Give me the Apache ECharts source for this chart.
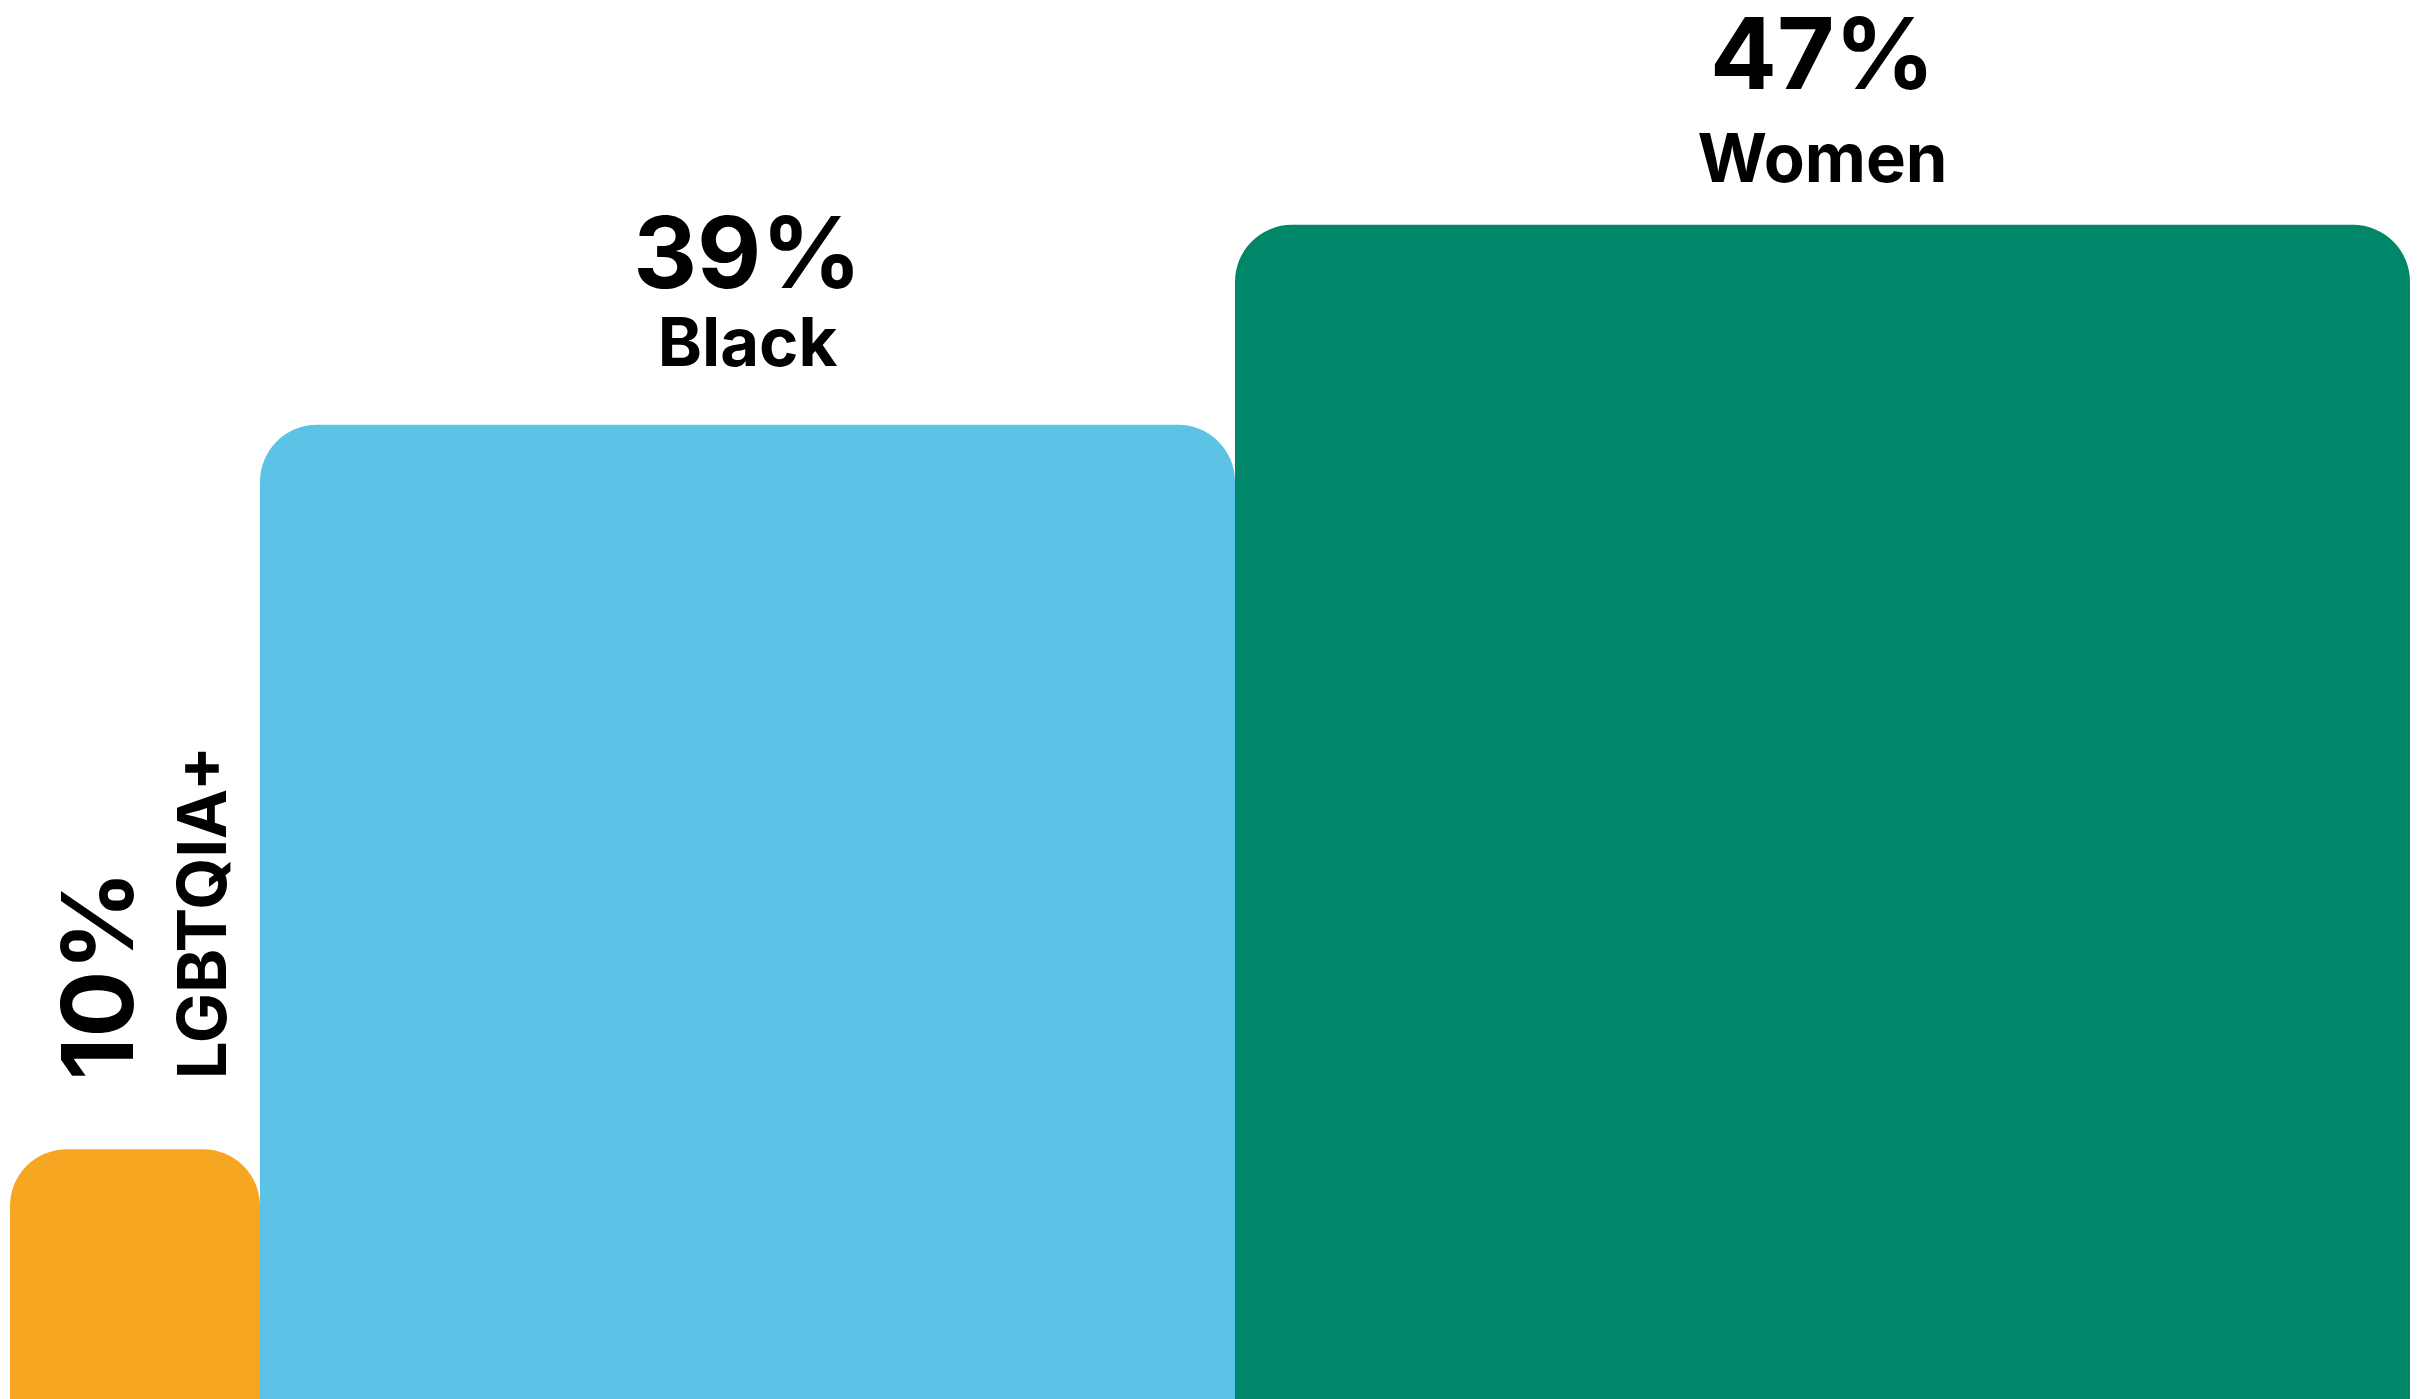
<!DOCTYPE html>
<html>
<head>
<meta charset="utf-8">
<script src="https://cdn.jsdelivr.net/npm/echarts@6/dist/echarts.min.js"></script>
<style>
  html, body { margin: 0; padding: 0; background: #ffffff; }
  #chart { width: 2418px; height: 1399px; }
</style>
</head>
<body>
<div id="chart"></div>
<script>
// Share of each group; each bar is as wide as it is tall (area-style columns)
const categories = ['LGBTQIA+', 'Black', 'Women'];
const shares = [10, 39, 47];
const valueLabels = ['10%', '39%', '47%'];
const barColors = ['#F6A621', '#5DC3E6', '#00876A'];

// Columns sit side by side: each starts where the previous one ends
let runningTotal = 0;
const spans = shares.map(function (v, i) {
  const start = runningTotal;
  runningTotal += v;
  return [start, runningTotal, v, i];
});

const FONT_FAMILY = 'Inter, "Noto Sans", sans-serif';
const VALUE_SIZE = 99;
const NAME_SIZE = 67;
const CORNER = 57;
const MID_SHIFT = 0.06;          // cap centre sits slightly above the em-box middle
const VALUE_LIFT = 172;          // value label centre above the bar top
const NAME_LIFT = [0, 83, 67];   // name label centre above the bar top

function textEl(x, y, text, size, rotated) {
  return {
    type: 'text',
    x: x,
    y: y,
    rotation: rotated ? Math.PI / 2 : 0,
    style: {
      text: text,
      fontFamily: FONT_FAMILY,
      fontWeight: 700,
      fontSize: size,
      fill: '#000000',
      textAlign: rotated ? 'left' : 'center',
      textVerticalAlign: 'middle'
    }
  };
}

function renderColumn(params, api) {
  const i = api.value(3);
  const base = api.coord([api.value(0), 0]);
  const peak = api.coord([api.value(1), api.value(2)]);
  const x = base[0];
  const w = peak[0] - base[0];
  const top = peak[1];
  const h = base[1] - peak[1];
  const cx = x + w / 2;

  const children = [{
    type: 'rect',
    shape: { x: x, y: top, width: w, height: h, r: [CORNER, CORNER, 0, 0] },
    style: { fill: barColors[i] }
  }];

  if (w < 400) {
    // narrow column: labels run upward, reading bottom to top
    children.push(textEl(x + 87.5 + MID_SHIFT * VALUE_SIZE, top - 69, valueLabels[i], VALUE_SIZE, true));
    children.push(textEl(x + 191.5 + MID_SHIFT * NAME_SIZE, top - 70, categories[i], NAME_SIZE, true));
  } else {
    children.push(textEl(cx, top - VALUE_LIFT + MID_SHIFT * VALUE_SIZE, valueLabels[i], VALUE_SIZE, false));
    children.push(textEl(cx, top - NAME_LIFT[i] + MID_SHIFT * NAME_SIZE, categories[i], NAME_SIZE, false));
  }
  return { type: 'group', children: children };
}

const chart = echarts.init(document.getElementById('chart'), null, { renderer: 'canvas' });
chart.setOption({
  animation: false,
  backgroundColor: '#ffffff',
  grid: { left: 10, right: 8, top: 0, bottom: -1, containLabel: false },
  xAxis: { type: 'value', min: 0, max: 96, show: false },
  yAxis: { type: 'value', min: 0, max: 56, show: false },
  series: [{
    type: 'custom',
    clip: false,
    renderItem: renderColumn,
    encode: { x: [0, 1], y: 2 },
    data: spans
  }]
});
</script>
</body>
</html>
